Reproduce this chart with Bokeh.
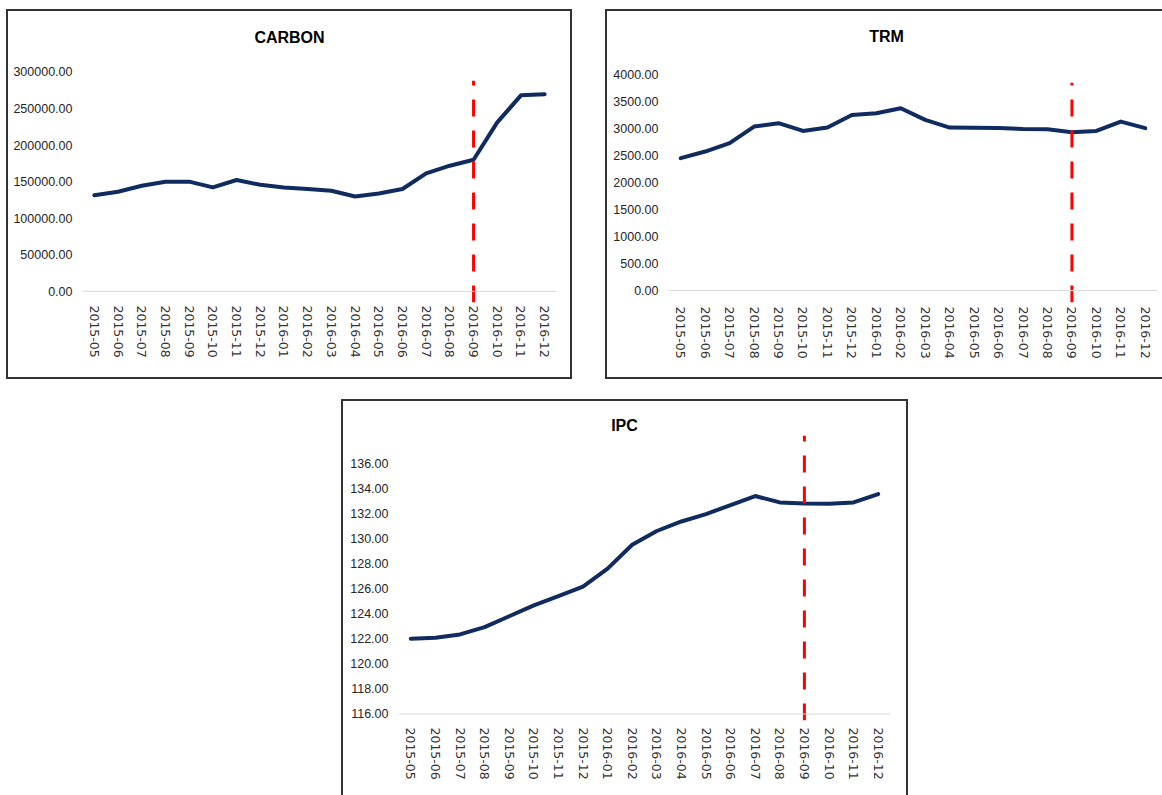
from bokeh.plotting import figure
from bokeh.layouts import column, row, Spacer
from bokeh.models import Range1d, FixedTicker, NumeralTickFormatter, Span, Label
from bokeh.embed import file_html
from bokeh.resources import INLINE

# Monthly series, May 2015 - Dec 2016
months = ["2015-05", "2015-06", "2015-07", "2015-08", "2015-09", "2015-10",
          "2015-11", "2015-12", "2016-01", "2016-02", "2016-03", "2016-04",
          "2016-05", "2016-06", "2016-07", "2016-08", "2016-09", "2016-10",
          "2016-11", "2016-12"]

carbon = [131500, 136200, 144400, 149900, 150000, 142100, 152200, 145700,
          142100, 139900, 137500, 129700, 133800, 139900, 161200, 171800,
          180000, 231000, 268000, 269500]

trm = [2446, 2568, 2723, 3029, 3091, 2949, 3010, 3244, 3276, 3368,
       3152, 3010, 3005, 3002, 2986, 2981, 2925, 2949, 3121, 2999]

ipc = [122.00, 122.08, 122.35, 122.93, 123.80, 124.67, 125.40, 126.16,
       127.60, 129.50, 130.60, 131.36, 131.95, 132.67, 133.39, 132.88,
       132.80, 132.78, 132.88, 133.55]

carbon_ticks = [0, 50000, 100000, 150000, 200000, 250000, 300000]
trm_ticks = [0, 500, 1000, 1500, 2000, 2500, 3000, 3500, 4000]
ipc_ticks = [116, 118, 120, 122, 124, 126, 128, 130, 132, 134, 136]

# month flagged by the dashed marker, and the marker's vertical extent per chart
marker_month = "2016-09"
carbon_marker = (-15300, 288000)
trm_marker = (-221, 3840)
ipc_marker = (115.48, 138.2)

LINE_COLOR = "#0f2b5f"
MARK_COLOR = "#ff0000"
FONT = "Liberation Sans"


def make_chart(title, values, ticks, y_bounds, marker, width, height,
               borders, title_pos, x_standoff, box_style):
    left, right, top, bottom = borders
    # the plot area runs up to the top edge so the heading can sit inside it;
    # stretch the y range so the tick spacing stays that of the lower part
    visible_h = height - top - bottom
    full_h = height - bottom
    y0, y1 = y_bounds
    y_end = y0 + (y1 - y0) * full_h / visible_h

    p = figure(width=width, height=height,
               x_range=Range1d(-0.5, len(months) - 0.5),
               y_range=Range1d(y0, y_end),
               output_backend="svg", toolbar_location=None,
               min_border_left=left, min_border_right=right,
               min_border_top=0, min_border_bottom=bottom,
               styles=box_style)
    p.background_fill_color = "white"
    p.border_fill_color = "white"
    p.outline_line_color = None
    p.grid.visible = False

    # chart heading, centred over the box
    p.add_layout(Label(x=title_pos[0] - left, y=full_h - title_pos[1],
                       x_units="screen", y_units="screen", text=title,
                       text_align="center", text_baseline="middle",
                       text_font=FONT, text_font_style="bold",
                       text_font_size="16px", text_color="#000000"))

    idx = list(range(len(months)))
    xa = p.xaxis[0]
    xa.ticker = FixedTicker(ticks=idx)
    xa.major_label_overrides = {i: m for i, m in enumerate(months)}
    xa.major_label_orientation = "vertical"
    xa.major_label_text_font = "DejaVu Sans"
    xa.major_label_text_font_size = "12.5px"
    xa.major_label_text_color = "#333333"
    xa.major_label_standoff = x_standoff
    xa.axis_line_color = None
    xa.major_tick_line_color = None
    xa.minor_tick_line_color = None
    xa.major_tick_out = 0
    xa.major_tick_in = 0

    ya = p.yaxis[0]
    ya.ticker = FixedTicker(ticks=ticks)
    ya.formatter = NumeralTickFormatter(format="0.00")
    ya.major_label_text_font = FONT
    ya.major_label_text_font_size = "12.5px"
    ya.major_label_text_color = "#262626"
    ya.major_label_standoff = 10
    ya.axis_line_color = None
    ya.major_tick_line_color = None
    ya.minor_tick_line_color = None
    ya.major_tick_out = 0
    ya.major_tick_in = 0

    # category axis baseline at the lowest tick
    p.add_layout(Span(location=ticks[0], dimension="width",
                      line_color="#d9d9d9", line_width=1))

    p.line(idx, values, line_color=LINE_COLOR, line_width=4,
           line_join="round", line_cap="round")

    mi = months.index(marker_month)
    p.segment(x0=[mi], y0=[marker[0]], x1=[mi], y1=[marker[1]],
              line_color=MARK_COLOR, line_width=3, line_dash="17 14")
    return p


box = {"border": "2px solid #333333", "background": "white"}
p1 = make_chart("CARBON", carbon, carbon_ticks, (-15300, 302000), carbon_marker,
                566, 370, (74, 18, 59, 79), (281, 26), 3, box)
p2 = make_chart("TRM", trm, trm_ticks, (-221, 4050), trm_marker,
                557, 370, (61, 7, 60, 78), (279, 26), 4,
                {**box, "border-right": "none"})
p3 = make_chart("IPC", ipc, ipc_ticks, (115.48, 138.3), ipc_marker,
                567, 396, (55, 20, 33, 77), (281, 24), 7,
                {**box, "border-bottom": "none"})

layout = column(
    Spacer(height=9),
    row(Spacer(width=6), p1, Spacer(width=33), p2),
    Spacer(height=20),
    row(Spacer(width=341), p3),
)

open("out.html", "w").write(file_html(layout, INLINE))
